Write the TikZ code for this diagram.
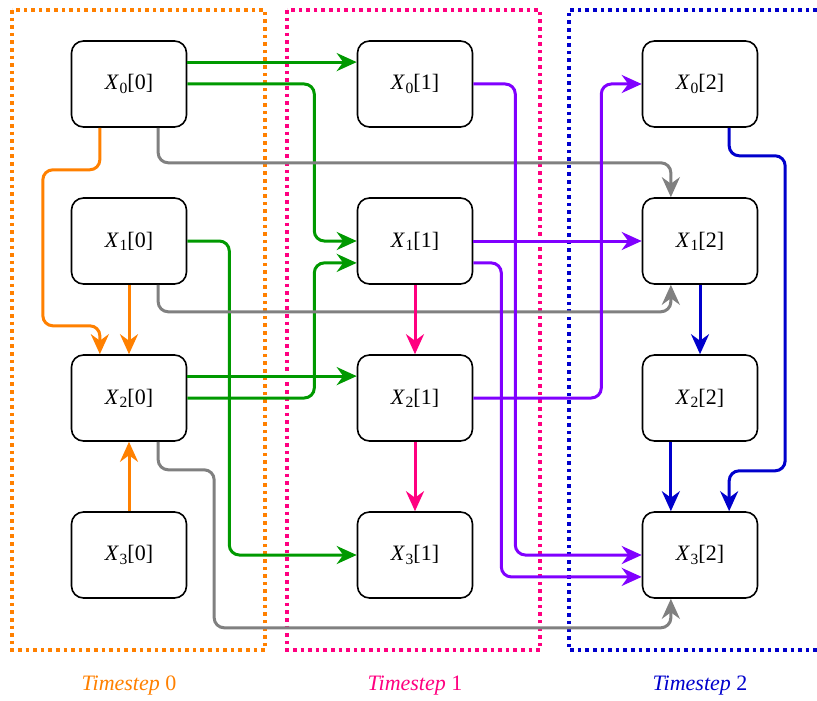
\documentclass[tikz,border=0pt]{standalone}
\usepackage{fontspec}
\setmainfont{Liberation Serif}
\usetikzlibrary{arrows.meta,calc}
\definecolor{cOrange}{RGB}{255,128,0}
\definecolor{cPink}{RGB}{255,0,128}
\definecolor{cBlue}{RGB}{0,0,204}
\definecolor{cPurple}{RGB}{128,0,255}
\definecolor{cGreen}{RGB}{0,153,0}
\definecolor{cGray}{RGB}{128,128,128}
\newcommand{\xvar}[2]{\textit{X}\kern0.3pt\raisebox{-1.6pt}{\fontsize{7.8}{9}\selectfont #1}[#2]}
\begin{document}
\begin{tikzpicture}[x=0.5pt,y=-0.5pt,
  box/.style={draw=black,line width=0.8pt,rounded corners=6pt,minimum width=57.5pt,minimum height=43pt,inner sep=0pt,fill=white,font=\fontsize{11}{13}\selectfont},
  conn/.style={line width=1.5pt,rounded corners=5pt,-{Stealth[length=10pt,width=9pt]}},
  frame/.style={line width=1.8pt,dotted},
  lbl/.style={font=\fontsize{11}{13}\selectfont}]
\useasboundingbox (0,0) rectangle (817,700);
% frames
\draw[frame,cOrange] (12,10) rectangle (265,650);
\draw[frame,cPink] (287,10) rectangle (540,650);
\draw[frame,cBlue] (817,10) -- (569,10) -- (569,650) -- (817,650);
% nodes
\foreach \r/\yy in {0/84,1/241,2/398,3/555}{
  \foreach \t/\xx in {0/129,1/415,2/700}{
    \node[box] (x\r\t) at (\xx,\yy) {\xvar{\r}{\t}};
  }
}
% quarter points
\foreach \r in {0,1,2,3}{
  \foreach \t in {0,1,2}{
    \coordinate (x\r\t-ue) at ($(x\r\t.east)!.5!(x\r\t.north east)$);
    \coordinate (x\r\t-le) at ($(x\r\t.east)!.5!(x\r\t.south east)$);
    \coordinate (x\r\t-uw) at ($(x\r\t.west)!.5!(x\r\t.north west)$);
    \coordinate (x\r\t-lw) at ($(x\r\t.west)!.5!(x\r\t.south west)$);
    \coordinate (x\r\t-bl) at ($(x\r\t.south)!.5!(x\r\t.south west)$);
    \coordinate (x\r\t-br) at ($(x\r\t.south)!.5!(x\r\t.south east)$);
    \coordinate (x\r\t-tl) at ($(x\r\t.north)!.5!(x\r\t.north west)$);
    \coordinate (x\r\t-tr) at ($(x\r\t.north)!.5!(x\r\t.north east)$);
  }
}
% green
\draw[conn,cGreen] (x00-ue) -- (x01-uw);
\draw[conn,cGreen] (x00.east) -- ++(127,0) |- (x11.west);
\draw[conn,cGreen] (x10.east) -- ++(42,0) |- (x31.west);
\draw[conn,cGreen] (x20-ue) -- (x21-uw);
\draw[conn,cGreen] (x20.east) -- ++(127,0) |- (x11-lw);
% gray
\draw[conn,cGray] (x00-br) -- ++(0,35) -| (x12-tl);
\draw[conn,cGray] (x10-br) -- ++(0,27) -| (x12-bl);
\draw[conn,cGray] (x20-br) -- ++(0,28) -| ++(56,158) -| (x32-bl);
% orange
\draw[conn,cOrange] (x00-bl) -- ++(0,42) -| ++(-57,156) -| (x20-tl);
\draw[conn,cOrange] (x10.south) -- (x20.north);
\draw[conn,cOrange] (x30.north) -- (x20.south);
% pink
\draw[conn,cPink] (x11.south) -- (x21.north);
\draw[conn,cPink] (x21.south) -- (x31.north);
% purple
\draw[conn,cPurple] (x01.east) -- ++(42,0) |- (x32.west);
\draw[conn,cPurple] (x11.east) -- (x12.west);
\draw[conn,cPurple] (x11-le) -- ++(28,0) |- (x32-lw);
\draw[conn,cPurple] (x21.east) -- ++(128,0) |- (x02.west);
% blue
\draw[conn,cBlue] (x02-br) -- ++(0,28) -| ++(56,315) -| (x32-tr);
\draw[conn,cBlue] (x12.south) -- (x22.north);
\draw[conn,cBlue] (x22-bl) -- (x32-tl);
% labels
\node[lbl,text=cOrange] (t0) at (129,686) {\textit{Timestep} 0};
\node[lbl,text=cPink] (t1) at (415,686) {\textit{Timestep} 1};
\node[lbl,text=cBlue] (t2) at (700,686) {\textit{Timestep} 2};
\end{tikzpicture}
\end{document}
